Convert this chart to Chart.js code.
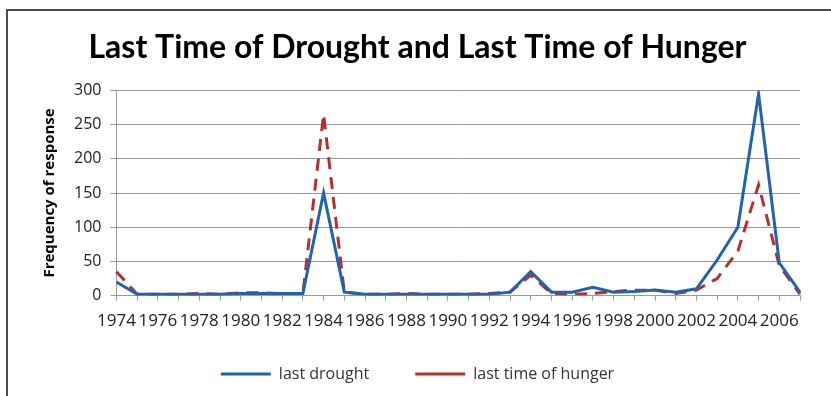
<!DOCTYPE html>
<html>
<head>
<meta charset="utf-8">
<script src="https://cdn.jsdelivr.net/npm/chart.js@4.4.1/dist/chart.umd.min.js"></script>
<style>
  body { margin: 0; background: #fff; }
  #wrap { position: relative; width: 831px; height: 396px; }
  #frame { position: absolute; left: 6px; top: 9px; right: 0; bottom: 0;
           border-left: 2px solid #4a4d4a; border-top: 2px solid #4a4d4a; }
  canvas { position: absolute; left: 0; top: 0; }
</style>
</head>
<body>
<div id="wrap">
  <div id="frame"></div>
  <canvas id="droughtChart" width="831" height="396"></canvas>
</div>
<script>
const years = [1974, 1975, 1976, 1977, 1978, 1979, 1980, 1981, 1982, 1983,
  1984, 1985, 1986, 1987, 1988, 1989, 1990, 1991, 1992, 1993,
  1994, 1995, 1996, 1997, 1998, 1999, 2000, 2001, 2002, 2003,
  2004, 2005, 2006, 2007];
const lastDrought = [20, 2, 2, 2, 2, 2, 3, 3, 3, 3,
  150, 5, 2, 2, 2, 2, 2, 2, 2, 5,
  35, 5, 5, 12, 5, 6, 8, 5, 10, 52,
  100, 295, 48, 5];
const lastHunger = [35, 2, 2, 2, 3, 2, 4, 4, 3, 3,
  265, 5, 2, 2, 3, 2, 2, 2, 3, 5,
  30, 3, 2, 3, 6, 8, 8, 3, 8, 25,
  65, 162, 44, 2];
const yTicks = [0, 50, 100, 150, 200, 250, 300];

const ctx = document.getElementById("droughtChart").getContext("2d");
new Chart(ctx, {
  type: "line",
  data: {
    labels: years,
    datasets: [
      {
        label: "last drought",
        data: lastDrought,
        borderColor: "#2163ae",
        backgroundColor: "#2163ae",
        borderWidth: 3,
        pointRadius: 0,
        tension: 0,
      },
      {
        label: "last time of hunger",
        data: lastHunger,
        borderColor: "#b5312c",
        backgroundColor: "#b5312c",
        borderWidth: 3,
        borderDash: [12, 8],
        pointRadius: 0,
        tension: 0,
      },
    ],
  },
  options: {
    responsive: false,
    animation: false,
    layout: { padding: { left: 35, right: 31, top: 22, bottom: 4 } },
    plugins: {
      title: {
        display: true,
        text: "Last Time of Drought and Last Time of Hunger",
        color: "#000",
        font: { family: "Lato", size: 32, weight: "bold" },
        padding: { top: 6, bottom: 24 },
      },
      legend: {
        position: "bottom",
        labels: {
          usePointStyle: true,
          pointStyle: "line",
          pointStyleWidth: 50,
          color: "#333",
          font: { family: "Open Sans", size: 16 },
          padding: 14,
          generateLabels: function(chart) {
            const items = Chart.defaults.plugins.legend.labels.generateLabels(chart);
            // wider gap between the two entries, as in the original
            items[0].text = items[0].text + "\u2003\u2003";
            return items;
          },
        },
      },
      tooltip: { enabled: false },
    },
    scales: {
      x: {
        offset: false,
        grid: { drawOnChartArea: false, color: "#999", tickLength: 5 },
        border: { color: "#999" },
        afterFit: function(scale) {
          scale.height += 11;
        },
        ticks: {
          autoSkip: false,
          maxRotation: 0,
          color: "#222",
          font: { family: "Open Sans", size: 17 },
          padding: 10,
          callback: function(value, index) {
            return index % 2 === 0 ? years[index] : "";
          },
        },
      },
      y: {
        min: 0,
        max: 300,
        afterBuildTicks: function(axis) {
          axis.ticks = yTicks.map(v => ({ value: v }));
        },
        grid: { color: "#999", tickLength: 6 },
        border: { color: "#999" },
        ticks: {
          color: "#222",
          font: { family: "Open Sans", size: 16 },
          padding: 9,
        },
        title: {
          display: true,
          text: "Frequency of response",
          color: "#000",
          font: { family: "Open Sans", size: 15, weight: "bold" },
          padding: 6,
        },
      },
    },
  },
});
</script>
</body>
</html>
